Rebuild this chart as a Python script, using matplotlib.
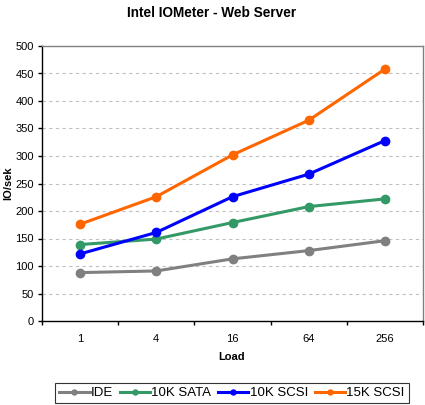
import matplotlib
matplotlib.use("Agg")
import matplotlib.pyplot as plt
import numpy as np

plt.rcParams['font.family'] = ['Liberation Sans', 'DejaVu Sans']

loads = ["1", "4", "16", "64", "256"]
ide = [88, 91, 113, 128, 146]
sata10k = [139, 149, 179, 208, 222]
scsi10k = [122, 161, 226, 267, 328]
scsi15k = [176, 226, 302, 365, 458]
series_names = ["IDE", "10K SATA", "10K SCSI", "15K SCSI"]
colors = ["#808080", "#339966", "#0000FF", "#FF6600"]
yticks = list(range(0, 501, 50))

fig = plt.figure(figsize=(4.25, 4.05), dpi=100)
ax = fig.add_axes([42/425, 1-321/405, (423-42)/425, (321-46)/405])

x = np.arange(len(loads))
for vals, name, c in zip([ide, sata10k, scsi10k, scsi15k], series_names, colors):
    ax.plot(x, vals, color=c, lw=2.2, marker='o', ms=6, mec=c, mfc=c, label=name)

ax.set_xlim(-0.5, len(loads) - 0.5)
ax.set_ylim(0, 500)
ax.set_yticks(yticks)
ax.set_yticklabels([str(v) for v in yticks], fontsize=8)
ax.set_xticks(np.arange(len(loads) + 1) - 0.5)
ax.set_xticklabels([])
ax.set_xticks(x, minor=True)
ax.set_xticklabels(loads, minor=True, fontsize=8)
ax.tick_params(axis='x', which='minor', length=0, pad=9)
ax.tick_params(axis='x', which='major', length=3, direction='out', width=1)
ax.tick_params(axis='y', length=3, direction='out', width=1, pad=3)

for v in yticks[1:-1]:
    ax.axhline(v, color='#C0C0C0', lw=0.8, ls=(0, (3, 3)), zorder=0)

for s in ['left', 'bottom']:
    ax.spines[s].set_color('black')
    ax.spines[s].set_linewidth(1)
for s in ['top', 'right']:
    ax.spines[s].set_color('#808080')
    ax.spines[s].set_linewidth(1)

fig.text(212/425, 1-13/405, "Intel IOMeter - Web Server", ha='center', va='center',
         fontsize=9.8, fontweight='bold')
fig.text(232/425, 1-357/405, "Load", ha='center', va='center', fontsize=8, fontweight='bold')
fig.text(8/425, 1-183/405, "IO/sek", ha='center', va='center', rotation=90,
         fontsize=8, fontweight='bold')

leg = fig.legend(loc='center', bbox_to_anchor=(232/425, 1-393/405), ncol=4,
                 fontsize=9.5, frameon=True, fancybox=False, edgecolor='black',
                 handlelength=2.3, handletextpad=0.1, columnspacing=0.5,
                 borderpad=0.3, borderaxespad=0, markerscale=0.6)
leg.get_frame().set_linewidth(0.8)

fig.savefig("out.png", dpi=100)
